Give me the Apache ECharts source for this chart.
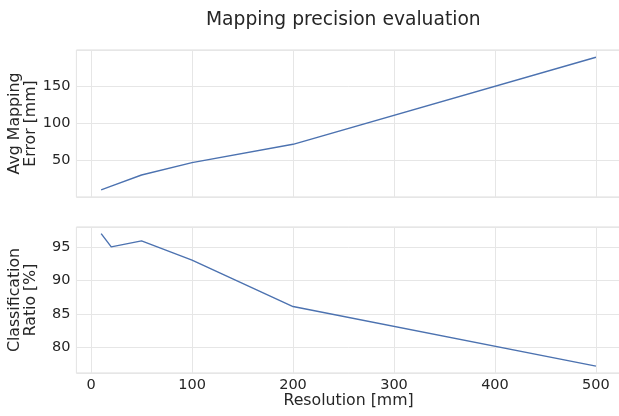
<!DOCTYPE html>
<html>
<head>
<meta charset="utf-8">
<script src="https://cdn.jsdelivr.net/npm/echarts@6/dist/echarts.min.js"></script>
<style>
  html, body { margin: 0; padding: 0; background: #fff; }
  #chart-main { width: 619px; height: 416px; }
</style>
</head>
<body>
<div id="chart-main"></div>
<script type="text/javascript">
	// data
	var resolution = [10, 20, 50, 100, 200, 500];
	var mappingError = [9.9, 15, 30.1, 46.8, 71.6, 189.2];
	var classRatio = [97.1, 95.1, 96.0, 93.1, 86.1, 77.1];

	var font = 'DejaVu Sans';
	var textColor = '#262626';
	var gridColor = '#e6e6e6';
	var lineColor = '#4c72b0';

	function pairs(xs, ys) {
		return xs.map(function (x, i) { return [x, ys[i]]; });
	}
	// only keep round tick labels, hide the extent ones
	function stepLabel(step) {
		return function (v) {
			var r = Math.round(v);
			return (Math.abs(v - r) < 1e-6 && r % step === 0) ? String(r) : '';
		};
	}

	var myChart = echarts.init(document.getElementById('chart-main'));

	var xBase = {
		type: 'value',
		min: -14.5,
		max: 524.5,
		splitNumber: 5,
		axisLine: { show: false },
		axisTick: { show: false },
		splitLine: { lineStyle: { color: gridColor, width: 1 } }
	};

	var option = {
		backgroundColor: '#fff',
		animation: false,
		title: {
			text: 'Mapping precision evaluation',
			left: 201,
			top: 6,
			textStyle: { fontFamily: font, fontSize: 18.7, fontWeight: 'normal', color: textColor }
		},
		grid: [
			{ left: 76.4, top: 50, width: 544.3, height: 147, outerBoundsMode: 'none', containLabel: false,
				show: true, borderColor: '#dcdcdc', borderWidth: 1 },
			{ left: 76.4, top: 227, width: 544.3, height: 146, outerBoundsMode: 'none', containLabel: false,
				show: true, borderColor: '#dcdcdc', borderWidth: 1 }
		],
		xAxis: [
			Object.assign({}, xBase, {
				gridIndex: 0,
				axisLabel: { show: false }
			}),
			Object.assign({}, xBase, {
				gridIndex: 1,
				name: 'Resolution [mm]',
				nameLocation: 'middle',
				nameMoveOverlap: false,
				nameGap: 20,
				nameTextStyle: { fontFamily: font, fontSize: 15.75, color: textColor },
				axisLabel: { margin: 5, fontFamily: font, fontSize: 14.5, color: textColor, formatter: stepLabel(100) }
			})
		],
		yAxis: [
			{
				type: 'value',
				gridIndex: 0,
				min: 0.4,
				max: 199,
				splitNumber: 4,
				name: 'Avg Mapping\nError [mm]',
				nameLocation: 'middle',
				nameMoveOverlap: false,
				nameGap: 37,
				nameTextStyle: { fontFamily: font, fontSize: 15.75, color: textColor, lineHeight: 16 },
				axisLine: { show: false },
				axisTick: { show: false },
				axisLabel: { margin: 6, fontFamily: font, fontSize: 14.5, color: textColor, formatter: stepLabel(50) },
				splitLine: { lineStyle: { color: gridColor, width: 1 } }
			},
			{
				type: 'value',
				gridIndex: 1,
				min: 76.07,
				max: 98.1,
				splitNumber: 5,
				name: 'Classification\nRatio [%]',
				nameLocation: 'middle',
				nameMoveOverlap: false,
				nameGap: 37,
				nameTextStyle: { fontFamily: font, fontSize: 15.75, color: textColor, lineHeight: 16 },
				axisLine: { show: false },
				axisTick: { show: false },
				axisLabel: { margin: 6, fontFamily: font, fontSize: 14.5, color: textColor, formatter: stepLabel(5) },
				splitLine: { lineStyle: { color: gridColor, width: 1 } }
			}
		],
		series: [
			{
				type: 'line',
				xAxisIndex: 0,
				yAxisIndex: 0,
				data: pairs(resolution, mappingError),
				showSymbol: false,
				lineStyle: { color: lineColor, width: 1.4 }
			},
			{
				type: 'line',
				xAxisIndex: 1,
				yAxisIndex: 1,
				data: pairs(resolution, classRatio),
				showSymbol: false,
				lineStyle: { color: lineColor, width: 1.4 }
			}
		]
	};

	myChart.setOption(option);
</script>
</body>
</html>
